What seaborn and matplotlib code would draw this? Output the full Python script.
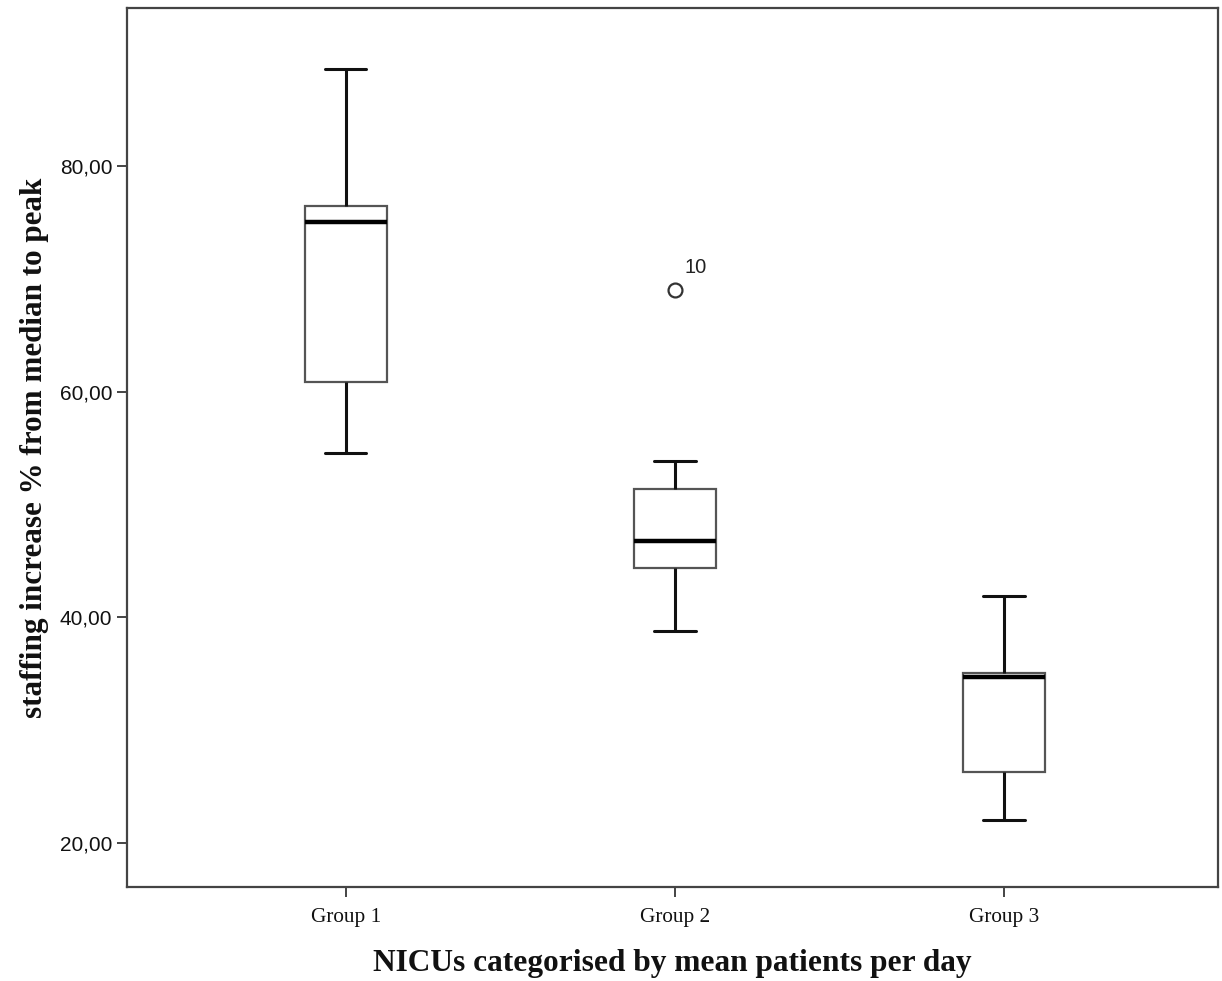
import matplotlib
matplotlib.use("Agg")
import matplotlib.pyplot as plt
from matplotlib.ticker import FuncFormatter
import numpy as np
import pandas as pd
import seaborn as sns

# values (staffing increase %, per group)
group_1 = [54.6, 60.9, 75.0, 76.5, 88.6]
group_2 = [38.8, 42.0, 44.4, 45.6, 46.8, 49.0, 51.4, 53.9, 69.0]
group_3 = [22.0, 26.3, 34.7, 35.1, 41.9]
group_names = ["Group 1", "Group 2", "Group 3"]
outlier_label = "10"

df = pd.DataFrame({
    "grupo": ["Group 1"] * len(group_1) + ["Group 2"] * len(group_2) + ["Group 3"] * len(group_3),
    "valor": group_1 + group_2 + group_3,
})

sns.set_style("white")

fig = plt.figure(figsize=(12.22, 9.81), dpi=100)
ax = fig.add_axes([0.1039, 0.0958, 0.8928, 0.896])

sns.boxplot(data=df, x="grupo", y="valor", order=group_names, width=0.25, ax=ax,
            color="white", whis=1.5,
            boxprops={"facecolor": "white", "edgecolor": "#555555", "linewidth": 1.6},
            whiskerprops={"color": "#111111", "linewidth": 2.2},
            capprops={"color": "#111111", "linewidth": 2.2},
            medianprops={"color": "#000000", "linewidth": 3.2},
            flierprops={"marker": "o", "markersize": 10, "markerfacecolor": "white",
                        "markeredgecolor": "#333333", "markeredgewidth": 1.6},
            capwidths=0.125)

ax.text(1.03, 71.0, outlier_label, ha="left", va="center", fontsize=14.5,
        family="Liberation Sans", color="#222222")

ax.set_xlim(-0.665, 2.65)
ax.set_ylim(16.1, 94.0)
ax.set_yticks([20, 40, 60, 80])
ax.yaxis.set_major_formatter(FuncFormatter(lambda v, p: f"{v:.2f}".replace(".", ",")))

for s in ax.spines.values():
    s.set_color("#444444")
    s.set_linewidth(1.6)

ax.tick_params(axis="both", direction="out", length=7, width=1.4, color="#444444",
               labelcolor="#111111", bottom=True, left=True)
ax.tick_params(axis="x", pad=8)
for lab in ax.get_yticklabels():
    lab.set_family("Liberation Sans")
    lab.set_fontsize(15)
for lab in ax.get_xticklabels():
    lab.set_family("Liberation Serif")
    lab.set_fontsize(15.3)

ax.set_xlabel("NICUs categorised by mean patients per day", fontsize=22.6,
              fontweight="bold", family="Liberation Serif", labelpad=16, color="#111111")
ax.set_ylabel("staffing increase % from median to peak", fontsize=22.4,
              fontweight="bold", family="Liberation Serif", labelpad=8, color="#111111")

plt.savefig("out.png", dpi=100)
